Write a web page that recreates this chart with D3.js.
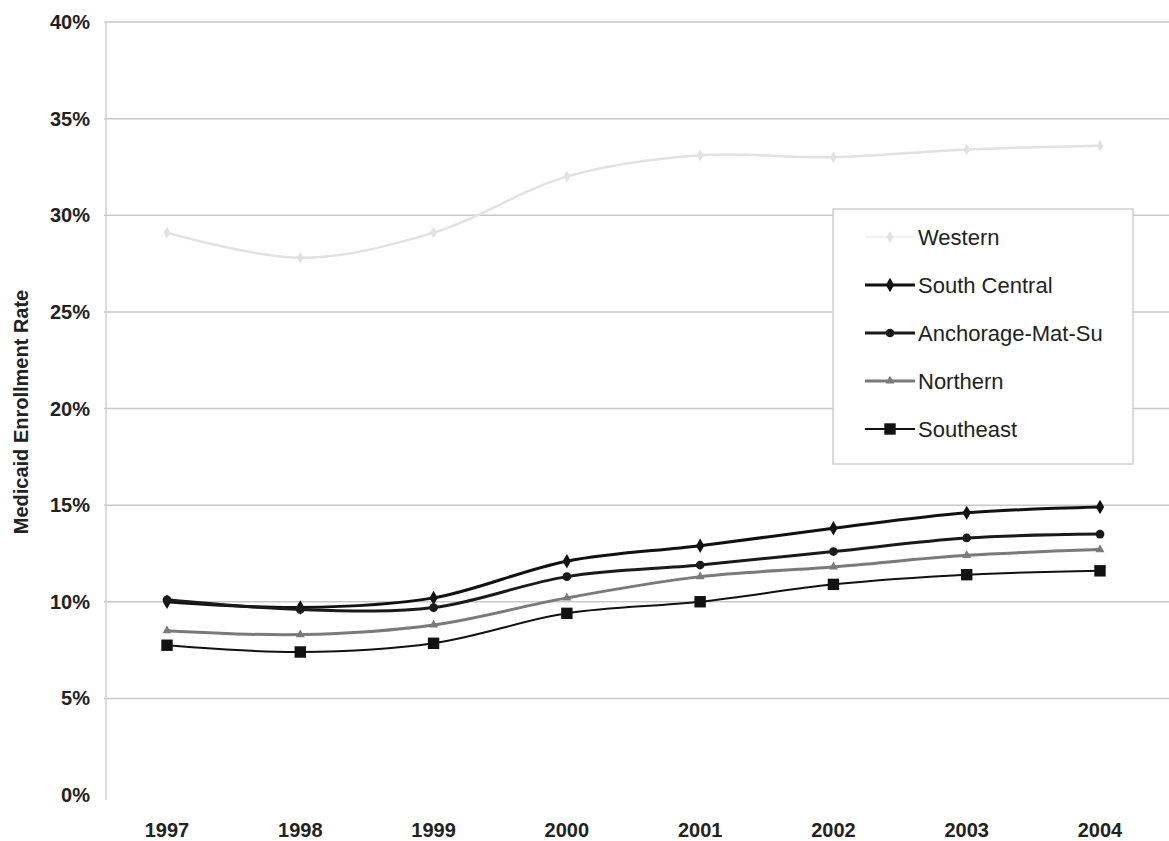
<!DOCTYPE html>
<html>
<head>
<meta charset="utf-8">
<script src="https://cdn.jsdelivr.net/npm/d3@7"></script>
<style>
  body { margin: 0; background: #fff; }
  svg { display: block; font-family: "Liberation Sans", Arial, sans-serif; }
</style>
</head>
<body>
<svg id="chart" width="1169" height="841"></svg>
<script>
let years = [1997, 1998, 1999, 2000, 2001, 2002, 2003, 2004];
let yTicks = [0, 5, 10, 15, 20, 25, 30, 35, 40];

let western = [29.1, 27.8, 29.1, 32.0, 33.1, 33.0, 33.4, 33.6];
let southCentral = [10.0, 9.7, 10.2, 12.1, 12.9, 13.8, 14.6, 14.9];
let anchorage = [10.1, 9.6, 9.7, 11.3, 11.9, 12.6, 13.3, 13.5];
let northern = [8.5, 8.3, 8.8, 10.2, 11.3, 11.8, 12.4, 12.7];
let southeast = [7.75, 7.4, 7.85, 9.4, 10.0, 10.9, 11.4, 11.6];

let seriesNames = ["Western", "South Central", "Anchorage-Mat-Su", "Northern", "Southeast"];
let seriesValues = [western, southCentral, anchorage, northern, southeast];

let styles = {
  "Western": { color: "#e2e2e2", width: 2.5, shape: d3.symbolDiamond, size: 40 },
  "South Central": { color: "#111", width: 3, shape: d3.symbolDiamond, size: 60 },
  "Anchorage-Mat-Su": { color: "#1a1a1a", width: 3, shape: d3.symbolCircle, size: 60 },
  "Northern": { color: "#7a7a7a", width: 3, shape: d3.symbolTriangle, size: 35 },
  "Southeast": { color: "#111", width: 2, shape: d3.symbolSquare, size: 130 }
};

let svg = d3.select("#chart");

let x = d3.scalePoint().domain(years).range([167, 1100]);
let y = d3.scaleLinear().domain([0, 40]).range([795, 22]);

// gridlines
svg.append("g")
    .selectAll("line")
    .data(yTicks.filter(t => t > 0))
    .enter().append("line")
    .attr("x1", 104)
    .attr("x2", 1169)
    .attr("y1", d => y(d))
    .attr("y2", d => y(d))
    .attr("stroke", "#c8c8c8")
    .attr("stroke-width", 1.5);

// left axis line
svg.append("line")
    .attr("x1", 106).attr("x2", 106)
    .attr("y1", y(40)).attr("y2", 800)
    .attr("stroke", "#cfcfcf")
    .attr("stroke-width", 1.5);

// y tick labels
svg.append("g")
    .selectAll("text")
    .data(yTicks)
    .enter().append("text")
    .attr("x", 90)
    .attr("y", d => y(d) + 7)
    .attr("text-anchor", "end")
    .attr("font-size", 20)
    .attr("font-weight", "bold")
    .attr("fill", "#222")
    .text(d => d + "%");

// x tick labels
svg.append("g")
    .selectAll("text")
    .data(years)
    .enter().append("text")
    .attr("x", d => x(d))
    .attr("y", 837)
    .attr("text-anchor", "middle")
    .attr("font-size", 20)
    .attr("font-weight", "bold")
    .attr("fill", "#222")
    .text(d => d);

// y axis title
svg.append("text")
    .attr("transform", "translate(28,412) rotate(-90)")
    .attr("text-anchor", "middle")
    .attr("font-size", 20)
    .attr("font-weight", "bold")
    .attr("fill", "#222")
    .text("Medicaid Enrollment Rate");

let line = d3.line()
    .x((d, i) => x(years[i]))
    .y(d => y(d))
    .curve(d3.curveCatmullRom.alpha(0.5));

seriesNames.forEach((name, k) => {
  let st = styles[name];
  let vals = seriesValues[k];
  let g = svg.append("g");
  g.append("path")
      .attr("d", line(vals))
      .attr("fill", "none")
      .attr("stroke", st.color)
      .attr("stroke-width", st.width);
  g.selectAll("path.marker")
      .data(vals)
      .enter().append("path")
      .attr("class", "marker")
      .attr("transform", (d, i) => `translate(${x(years[i])},${y(d)})`)
      .attr("d", d3.symbol().type(st.shape).size(st.size))
      .attr("fill", st.color);
});

// legend
let legend = svg.append("g");
legend.append("rect")
    .attr("x", 833).attr("y", 209)
    .attr("width", 300).attr("height", 255)
    .attr("fill", "#fff")
    .attr("stroke", "#cfcfcf")
    .attr("stroke-width", 1.5);

seriesNames.forEach((name, k) => {
  let st = styles[name];
  let ly = 237 + k * 48;
  legend.append("line")
      .attr("x1", 865).attr("x2", 915)
      .attr("y1", ly).attr("y2", ly)
      .attr("stroke", name === "Western" ? "#f2f2f2" : st.color)
      .attr("stroke-width", st.width);
  legend.append("path")
      .attr("transform", `translate(890,${ly})`)
      .attr("d", d3.symbol().type(st.shape).size(st.size))
      .attr("fill", st.color);
  legend.append("text")
      .attr("x", 918)
      .attr("y", ly + 8)
      .attr("font-size", 22)
      .attr("fill", "#222")
      .text(name);
});
</script>
</body>
</html>
